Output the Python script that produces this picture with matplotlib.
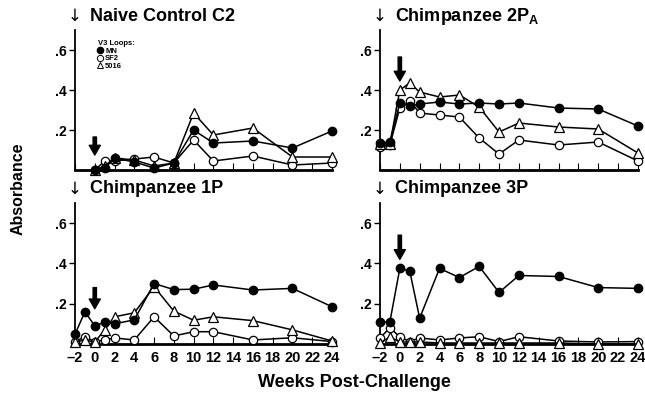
import matplotlib
matplotlib.use("Agg")
import matplotlib.pyplot as plt
from matplotlib.lines import Line2D

plt.rcParams['font.family'] = ['Liberation Sans', 'DejaVu Sans']
plt.rcParams['font.weight'] = 'bold'
plt.rcParams['mathtext.fontset'] = 'custom'
plt.rcParams['mathtext.bf'] = 'Liberation Sans:bold'
plt.rcParams['mathtext.rm'] = 'Liberation Sans:bold'

# weeks sampled
weeks_c2 = [0, 1, 2, 4, 6, 8, 10, 12, 16, 20, 24]
weeks = [-2, -1, 0, 1, 2, 4, 6, 8, 10, 12, 16, 20, 24]

# Naive Control C2
c2_mn = [0.0, 0.01, 0.06, 0.04, 0.01, 0.035, 0.20, 0.135, 0.145, 0.11, 0.195]
c2_sf2 = [0.0, 0.045, 0.045, 0.055, 0.065, 0.035, 0.15, 0.045, 0.07, 0.025, 0.035]
c2_5016 = [0.0, 0.02, 0.06, 0.05, 0.02, 0.035, 0.285, 0.175, 0.21, 0.065, 0.065]

# Chimpanzee 2PA
p2_mn = [0.135, 0.14, 0.335, 0.32, 0.33, 0.34, 0.33, 0.335, 0.33, 0.335, 0.31, 0.305, 0.22]
p2_sf2 = [0.115, 0.125, 0.31, 0.345, 0.285, 0.275, 0.265, 0.16, 0.08, 0.15, 0.125, 0.14, 0.045]
p2_5016 = [0.13, 0.13, 0.40, 0.435, 0.39, 0.365, 0.375, 0.315, 0.19, 0.235, 0.215, 0.205, 0.085]

# Chimpanzee 1P
p1_mn = [0.048, 0.16, 0.09, 0.108, 0.10, 0.12, 0.30, 0.27, 0.272, 0.293, 0.268, 0.276, 0.185]
p1_sf2 = [0.012, 0.036, 0.012, 0.02, 0.03, 0.02, 0.135, 0.04, 0.061, 0.061, 0.02, 0.031, 0.012]
p1_5016 = [0.01, 0.02, 0.01, 0.07, 0.135, 0.155, 0.285, 0.163, 0.118, 0.135, 0.116, 0.07, 0.015]

# Chimpanzee 3P
p3_mn = [0.11, 0.11, 0.375, 0.362, 0.128, 0.375, 0.33, 0.385, 0.256, 0.34, 0.335, 0.28, 0.276]
p3_sf2 = [0.03, 0.08, 0.036, 0.012, 0.03, 0.02, 0.03, 0.036, 0.012, 0.036, 0.015, 0.01, 0.012]
p3_5016 = [0.005, 0.035, 0.01, 0.01, 0.01, 0.005, 0.005, 0.005, 0.005, 0.005, 0.005, 0.0, 0.0]

titles = ["Naive Control C2", r"Chimpanzee 2P$\mathbf{_A}$", "Chimpanzee 1P", "Chimpanzee 3P"]
arrow_top = [0.165, 0.565, 0.28, 0.54]
arrow_tip = [0.075, 0.445, 0.175, 0.42]

xticks = list(range(-2, 25, 2))
xticklabels = ["\u20132"] + [str(t) for t in xticks[1:]]
yticks = [0.2, 0.4, 0.6]
yticklabels = [".2", ".4", ".6"]

panels = [
    (weeks_c2, c2_mn, c2_sf2, c2_5016),
    (weeks, p2_mn, p2_sf2, p2_5016),
    (weeks, p1_mn, p1_sf2, p1_5016),
    (weeks, p3_mn, p3_sf2, p3_5016),
]

fig = plt.figure(figsize=(6.45, 3.94), dpi=100)
boxes = [
    [0.1163, 0.5685, 0.3984, 0.3553],
    [0.5891, 0.5685, 0.4000, 0.3553],
    [0.1163, 0.1269, 0.3984, 0.3580],
    [0.5891, 0.1269, 0.4000, 0.3580],
]

for i, (box, (wk, mn, sf2, v5016)) in enumerate(zip(boxes, panels)):
    ax = fig.add_axes(box)
    kw = dict(color='black', lw=1.1, clip_on=False)
    ax.plot(wk, sf2, marker='o', ms=6, mfc='white', mec='black', mew=0.9, zorder=3, **kw)
    ax.plot(wk, v5016, marker='^', ms=6.5, mfc='white', mec='black', mew=0.9, zorder=3, **kw)
    ax.plot(wk, mn, marker='o', ms=6, mfc='black', mec='black', zorder=4, **kw)

    ax.annotate('', xy=(0, arrow_tip[i]), xytext=(0, arrow_top[i]),
                arrowprops=dict(facecolor='black', edgecolor='black', width=2.4,
                                headwidth=8, headlength=7, shrink=0))

    ax.set_xlim(-2, 24)
    ax.set_ylim(0, 0.7)
    for s in ['top', 'right']:
        ax.spines[s].set_visible(False)
    ax.spines['bottom'].set_linewidth(2)
    ax.spines['left'].set_linewidth(1.3)
    ax.set_yticks(yticks)
    ax.set_yticklabels(yticklabels, fontsize=10, fontweight='bold')
    ax.tick_params(axis='y', direction='out', length=4, width=1, pad=2)
    ax.set_xticks(xticks)
    ax.tick_params(axis='x', direction='in', length=5, width=0.8, pad=5)
    if i >= 2:
        ax.set_xticklabels(xticklabels, fontsize=10.5, fontweight='bold')
    else:
        ax.set_xticklabels([])

    x0 = box[0] * 645
    ytop = (box[1] + box[3]) * 394
    fig.text(x0 / 645, (ytop + 14) / 394, "\u2193", family='DejaVu Sans',
             fontweight='normal', fontsize=12, ha='center', va='center')
    fig.text((x0 + 15) / 645, (ytop + 14) / 394, titles[i], fontsize=13,
             fontweight='heavy', ha='left', va='center')

    if i == 0:
        handles = [
            Line2D([], [], ls='none', marker='o', ms=4.5, mfc='black', mec='black'),
            Line2D([], [], ls='none', marker='o', ms=4.5, mfc='white', mec='black', mew=0.7),
            Line2D([], [], ls='none', marker='^', ms=5, mfc='white', mec='black', mew=0.7),
        ]
        ax.legend(handles, ['MN', 'SF2', '5016'], title='V3 Loops:', loc='upper left',
                  bbox_to_anchor=(0.09, 0.93), frameon=False, fontsize=5.5,
                  title_fontsize=5.5, handlelength=0.6, handletextpad=0.3,
                  labelspacing=0.05, borderpad=0, borderaxespad=0, alignment='left',
                  prop=dict(weight='bold', size=5.5))

fig.text(0.028, 0.52, "Absorbance", rotation=90, fontsize=11.5, fontweight='bold',
         ha='center', va='center')
fig.text(0.55, 0.028, "Weeks Post-Challenge", fontsize=13, fontweight='bold',
         ha='center', va='center')

fig.savefig('out.png', dpi=100)
